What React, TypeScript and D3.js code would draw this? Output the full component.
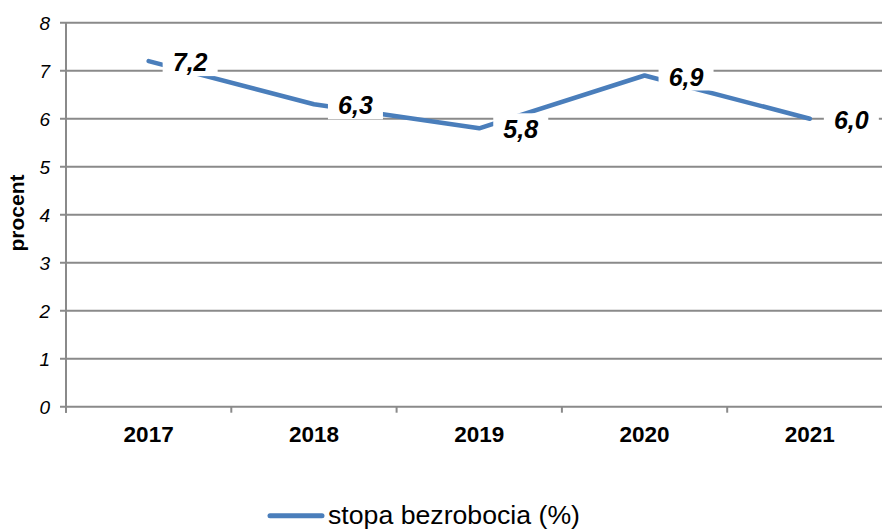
import React from "react";
import * as d3 from "d3";

const categories = ["2017", "2018", "2019", "2020", "2021"];
const values = [7.2, 6.3, 5.8, 6.9, 6.0];
const valueLabels = ["7,2", "6,3", "5,8", "6,9", "6,0"];
const yTicks = [0, 1, 2, 3, 4, 5, 6, 7, 8];
const seriesName = "stopa bezrobocia (%)";
const yTitle = "procent";

const W = 882;
const H = 529;
const left = 66;
const right = 892.5;
const top = 22.7;
const bottom = 406.7;
const blue = "#4A7EBB";
const grid = "#8A8A8A";

export default function App() {
  const x = d3.scaleBand<string>().domain(categories).range([left, right]);
  const y = d3.scaleLinear().domain([0, 8]).range([bottom, top]);
  const cx = (c: string) => (x(c) ?? 0) + x.bandwidth() / 2;
  const line = d3
    .line<number>()
    .x((_, i) => cx(categories[i]))
    .y((d) => y(d));
  const bounds = [...categories.map((c) => x(c) ?? 0), right];

  return (
    <svg
      width={W}
      height={H}
      style={{ position: "absolute", left: 0, top: 0, background: "#fff" }}
      fontFamily="Liberation Sans, Arial, sans-serif"
    >
      <rect x={0} y={0} width={W} height={H} fill="#fff" />
      {yTicks.map((t) => (
        <g key={t}>
          <line x1={60} x2={W} y1={y(t)} y2={y(t)} stroke={grid} strokeWidth={2} />
          <text
            x={50}
            y={y(t)}
            dy="0.36em"
            textAnchor="end"
            fontSize={19}
            fontStyle="italic"
            fill="#000"
          >
            {t}
          </text>
        </g>
      ))}
      <line x1={left} x2={left} y1={top} y2={bottom + 6} stroke={grid} strokeWidth={2} />
      {bounds.map((b, i) => (
        <line key={i} x1={b} x2={b} y1={bottom} y2={bottom + 6} stroke={grid} strokeWidth={2} />
      ))}
      {categories.map((c) => (
        <text
          key={c}
          x={cx(c)}
          y={442}
          textAnchor="middle"
          fontSize={22.5}
          fontWeight="bold"
          fill="#000"
        >
          {c}
        </text>
      ))}
      <text
        transform={`translate(24, 213) rotate(-90)`}
        textAnchor="middle"
        fontSize={21}
        fontWeight="bold"
        fill="#000"
      >
        {yTitle}
      </text>
      <path
        d={line(values) ?? ""}
        fill="none"
        stroke={blue}
        strokeWidth={4.5}
        strokeLinecap="round"
        strokeLinejoin="round"
      />
      {values.map((v, i) => {
        const px = cx(categories[i]);
        const py = y(v);
        return (
          <g key={i}>
            <rect x={px + 14} y={py - 15} width={55} height={30} fill="#fff" />
            <text
              x={px + 41.5}
              y={py + 1}
              dy="0.36em"
              textAnchor="middle"
              fontSize={25}
              fontWeight="bold"
              fontStyle="italic"
              fill="#000"
            >
              {valueLabels[i]}
            </text>
          </g>
        );
      })}
      <line x1={270} x2={322} y1={515.7} y2={515.7} stroke={blue} strokeWidth={5} strokeLinecap="round" />
      <text x={328} y={524} fontSize={25} fill="#000" textLength={252} lengthAdjust="spacingAndGlyphs">
        {seriesName}
      </text>
    </svg>
  );
}
